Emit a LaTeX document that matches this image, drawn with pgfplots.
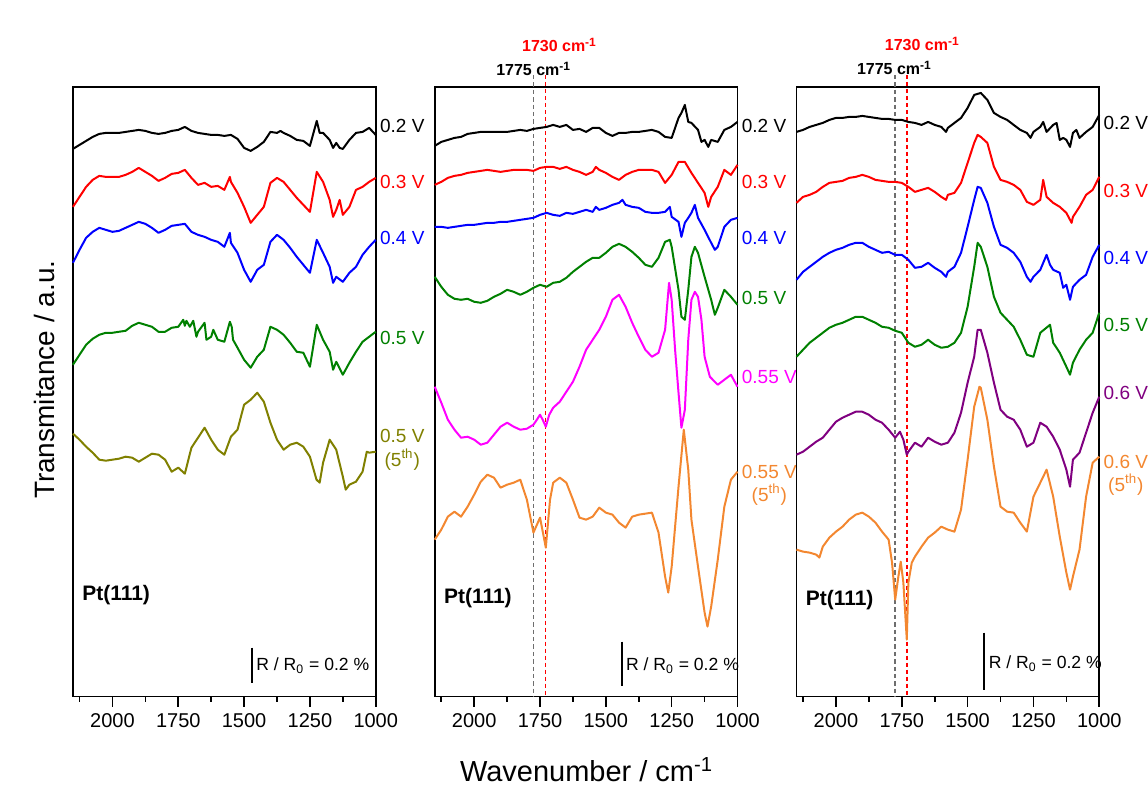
\documentclass[border=0pt]{standalone}
\usepackage{pgfplots}
\pgfplotsset{compat=1.18}
\usepackage{fontspec}
\setmainfont{Liberation Sans}

\definecolor{sgreen}{RGB}{0,128,0}
\definecolor{solive}{RGB}{128,128,0}
\definecolor{sorange}{RGB}{243,135,48}
\definecolor{spurple}{RGB}{128,0,128}
\definecolor{smag}{RGB}{255,0,255}
\definecolor{sgray}{RGB}{110,110,110}

\pgfplotsset{
  panel/.style={
    scale only axis, width=151.5pt, height=305pt,
    anchor=south west,
    xmin=1000, xmax=2150, x dir=reverse,
    ymin=87, ymax=697, y dir=reverse,
    xtick={1000,1250,1500,1750,2000},
    minor xtick={1125,1375,1625,1875,2125},
    ytick=\empty,
    xtick pos=left,
    tick align=outside,
    major tick length=5pt, minor tick length=2.5pt,
    tick style={black, line width=0.8pt},
    axis line style={line width=0.8pt},
    tick label style={font=\fontsize{10}{12}\selectfont},
    /pgf/number format/assume math mode=true,
    /pgf/number format/1000 sep={},
    clip=false,
    every axis plot/.append style={line width=1pt, line join=round, no markers},
  },
}
\tikzset{
  lbl/.style={anchor=west, inner sep=0pt, xshift=2pt, font=\fontsize{9.5}{11}\selectfont},
  fifth/.style={inner sep=0pt, font=\fontsize{9.5}{11}\selectfont},
  pt/.style={anchor=west, inner sep=0pt, font=\fontsize{10.5}{12}\selectfont\bfseries},
  rr/.style={anchor=west, inner sep=0pt, font=\fontsize{8.8}{10}\selectfont},
  ann/.style={inner sep=0pt, font=\fontsize{8}{10}\selectfont\bfseries},
  gdash/.style={sgray, line width=0.9pt, dash pattern=on 2.2pt off 1.5pt},
  rdash/.style={red, line width=0.6pt, dash pattern=on 2pt off 1.5pt},
}

\begin{document}
\begin{tikzpicture}
\path (0,0) rectangle (574pt,394.5pt);

% ---------------- panel 1 ----------------
\begin{axis}[panel, at={(36.5pt,46pt)}]
\addplot[black] coordinates {(2150,149) (2125,145) (2100,141) (2075,137) (2050,134) (2025,133) (2000,133) (1975,133) (1950,132) (1925,131) (1900,130) (1875,131) (1850,133) (1825,134) (1800,133) (1775,131) (1750,130) (1725,127) (1700,131) (1675,133) (1650,134) (1625,135) (1600,135) (1575,136) (1550,135) (1525,139) (1500,148) (1475,151) (1450,147) (1425,142) (1400,132) (1375,133) (1362,131) (1350,133) (1325,136) (1300,140) (1275,141) (1250,146) (1224,121) (1213,133) (1200,133) (1175,140) (1162,148) (1150,143) (1137,148) (1125,149) (1100,140) (1075,133) (1050,132) (1025,128) (1000,135)};
\addplot[red] coordinates {(2150,207) (2125,197) (2100,187) (2075,180) (2050,176) (2025,177) (2000,177) (1975,177) (1950,175) (1925,172) (1900,168) (1875,172) (1850,176) (1825,181) (1800,178) (1775,174) (1750,173) (1725,170) (1700,178) (1675,185) (1650,183) (1625,187) (1600,186) (1575,190) (1554,177) (1550,182) (1525,193) (1500,207) (1475,223) (1450,215) (1425,207) (1400,183) (1375,178) (1350,182) (1325,190) (1300,198) (1275,205) (1250,212) (1224,172) (1200,182) (1175,200) (1162,217) (1150,210) (1137,200) (1125,215) (1100,207) (1075,190) (1050,187) (1025,182) (1000,178)};
\addplot[blue] coordinates {(2150,263) (2125,250) (2100,238) (2075,232) (2050,228) (2025,230) (2000,232) (1975,231) (1950,228) (1925,225) (1900,222) (1875,224) (1850,228) (1825,233) (1800,230) (1775,226) (1750,225) (1725,224) (1700,232) (1675,235) (1650,237) (1625,240) (1600,242) (1575,247) (1554,233) (1550,243) (1525,253) (1500,270) (1475,282) (1450,270) (1425,265) (1400,242) (1375,235) (1350,240) (1325,248) (1300,257) (1275,265) (1250,273) (1224,240) (1200,253) (1175,267) (1162,283) (1150,277) (1125,282) (1100,273) (1075,267) (1050,255) (1025,247) (1000,240)};
\addplot[sgreen] coordinates {(2150,365) (2125,355) (2100,345) (2075,339) (2050,335) (2025,333) (2000,333) (1975,332) (1950,331) (1925,326) (1900,323) (1875,325) (1850,327) (1825,332) (1800,332) (1775,328) (1750,327) (1731,320) (1725,326) (1719,321) (1706,327) (1693,321) (1681,337) (1675,332) (1650,323) (1643,340) (1625,337) (1617,330) (1600,340) (1575,342) (1554,322) (1547,327) (1542,340) (1525,348) (1500,360) (1475,368) (1450,357) (1425,350) (1400,327) (1375,330) (1350,335) (1325,343) (1300,352) (1275,353) (1250,367) (1224,325) (1200,340) (1175,352) (1162,370) (1150,362) (1125,375) (1100,363) (1075,352) (1050,342) (1025,337) (1000,332)};
\addplot[solive] coordinates {(2150,434) (2125,440) (2100,447) (2075,453) (2050,460) (2025,461) (2000,460) (1975,459) (1950,457) (1925,458) (1900,462) (1875,458) (1850,454) (1825,455) (1800,460) (1775,472) (1750,468) (1725,474) (1700,448) (1675,438) (1650,428) (1625,440) (1600,450) (1575,455) (1550,437) (1525,430) (1500,405) (1475,400) (1450,393) (1425,402) (1400,423) (1375,440) (1350,450) (1325,445) (1300,443) (1275,447) (1250,457) (1225,480) (1213,483) (1200,463) (1175,440) (1150,450) (1125,477) (1114,490) (1100,485) (1075,482) (1050,472) (1034,452) (1025,453) (1000,452)};
\node[lbl, text=black] at (axis cs:1000,126) {0.2 V};
\node[lbl, text=red] at (axis cs:1000,182) {0.3 V};
\node[lbl, text=blue] at (axis cs:1000,238) {0.4 V};
\node[lbl, text=sgreen] at (axis cs:1000,338) {0.5 V};
\node[lbl, text=solive] (a1) at (axis cs:1000,436) {0.5 V};
\coordinate (b1) at (axis cs:1000,460);
\node[fifth, text=solive] at (a1.center |- b1) {(5\textsuperscript{th})};
\node[pt] at (axis cs:2116,595) {Pt(111)};
\draw[line width=1pt] (axis cs:1470,648) -- (axis cs:1470,683);
\node[rr] at (axis cs:1455,666) {R / R\textsubscript{0} = 0.2 \%};
\end{axis}

% ---------------- panel 2 ----------------
\begin{axis}[panel, at={(217.5pt,46pt)}]
\draw[gdash] (axis cs:1775,75) -- (axis cs:1775,697);
\draw[rdash] (axis cs:1730,75) -- (axis cs:1730,697);
\addplot[black] coordinates {(2150,146) (2125,142) (2100,140) (2075,138) (2050,137) (2025,134) (2000,133) (1975,132) (1950,132) (1925,132) (1900,132) (1875,132) (1850,131) (1825,130) (1800,131) (1775,129) (1750,128) (1725,127) (1700,125) (1675,127) (1650,125) (1625,130) (1600,129) (1575,132) (1550,128) (1525,128) (1500,133) (1475,136) (1450,133) (1425,133) (1400,132) (1375,132) (1350,131) (1325,130) (1300,132) (1275,137) (1250,138) (1224,118) (1213,113) (1200,105) (1187,122) (1175,123) (1150,130) (1137,142) (1125,140) (1111,147) (1100,140) (1075,142) (1050,130) (1025,127) (1000,122)};
\addplot[red] coordinates {(2150,185) (2125,182) (2100,178) (2075,176) (2050,175) (2025,173) (2000,172) (1975,171) (1950,170) (1925,171) (1900,172) (1875,171) (1850,170) (1825,170) (1800,170) (1775,171) (1750,168) (1725,167) (1700,167) (1675,169) (1650,167) (1625,170) (1600,172) (1575,175) (1550,172) (1538,167) (1525,170) (1500,173) (1475,177) (1450,180) (1425,175) (1400,172) (1375,170) (1350,170) (1325,170) (1300,172) (1275,183) (1250,175) (1224,162) (1200,162) (1175,173) (1150,183) (1125,193) (1111,207) (1100,197) (1075,187) (1050,170) (1025,175) (1000,165)};
\addplot[blue] coordinates {(2150,227) (2125,227) (2100,228) (2075,227) (2050,226) (2025,225) (2000,225) (1975,224) (1950,223) (1925,223) (1900,222) (1875,222) (1850,221) (1825,220) (1800,219) (1775,218) (1750,215) (1725,213) (1700,215) (1675,216) (1650,213) (1625,214) (1600,212) (1575,210) (1550,212) (1538,207) (1525,210) (1500,208) (1475,205) (1450,203) (1437,200) (1425,205) (1400,207) (1375,208) (1350,212) (1325,213) (1300,213) (1275,212) (1257,207) (1250,217) (1224,222) (1213,237) (1200,223) (1187,218) (1175,213) (1162,205) (1150,218) (1125,230) (1100,243) (1086,250) (1075,247) (1050,227) (1025,220) (1000,218)};
\addplot[sgreen] coordinates {(2150,277) (2125,287) (2100,295) (2075,299) (2050,300) (2025,299) (2000,302) (1975,303) (1950,301) (1925,297) (1900,294) (1875,290) (1850,292) (1825,295) (1800,292) (1775,288) (1750,285) (1725,287) (1700,283) (1675,282) (1650,278) (1625,272) (1600,267) (1575,262) (1550,258) (1525,258) (1500,253) (1475,247) (1450,244) (1425,247) (1400,252) (1375,258) (1350,265) (1325,267) (1300,258) (1275,242) (1257,240) (1250,247) (1224,290) (1213,317) (1200,320) (1187,290) (1175,257) (1162,247) (1150,253) (1125,277) (1100,300) (1086,315) (1075,308) (1050,290) (1025,297) (1000,305)};
\addplot[smag] coordinates {(2150,387) (2125,403) (2100,420) (2075,430) (2050,438) (2025,437) (2000,440) (1975,445) (1950,443) (1925,435) (1900,427) (1875,423) (1850,427) (1825,430) (1800,429) (1775,425) (1762,420) (1750,415) (1740,420) (1728,427) (1715,415) (1700,408) (1675,402) (1650,392) (1625,382) (1600,367) (1575,350) (1550,340) (1525,330) (1500,317) (1475,300) (1450,295) (1425,307) (1400,323) (1375,337) (1350,350) (1325,357) (1300,353) (1275,330) (1260,283) (1250,300) (1237,350) (1224,393) (1213,428) (1200,410) (1187,340) (1175,300) (1162,292) (1150,297) (1137,320) (1125,357) (1105,377) (1075,385) (1050,380) (1025,375) (1000,387)};
\addplot[sorange] coordinates {(2150,540) (2125,530) (2100,517) (2075,512) (2050,517) (2025,507) (2000,495) (1975,482) (1950,475) (1925,478) (1900,488) (1875,485) (1850,483) (1825,480) (1800,500) (1775,533) (1750,518) (1728,548) (1712,500) (1700,483) (1675,478) (1650,483) (1625,500) (1600,518) (1575,520) (1550,517) (1525,508) (1500,513) (1475,515) (1450,523) (1425,528) (1400,517) (1375,515) (1350,514) (1325,513) (1300,533) (1275,577) (1263,593) (1250,567) (1224,487) (1204,430) (1187,470) (1175,520) (1150,567) (1125,613) (1114,627) (1100,607) (1075,560) (1050,507) (1025,480) (1000,472)};
\node[lbl, text=black] at (axis cs:1000,126) {0.2 V};
\node[lbl, text=red] at (axis cs:1000,182) {0.3 V};
\node[lbl, text=blue] at (axis cs:1000,238) {0.4 V};
\node[lbl, text=sgreen] at (axis cs:1000,298) {0.5 V};
\node[lbl, text=smag] at (axis cs:1000,377) {0.55 V};
\node[lbl, text=sorange] (a2) at (axis cs:1000,472) {0.55 V};
\coordinate (b2) at (axis cs:1000,495);
\node[fifth, text=sorange] at (a2.center |- b2) {(5\textsuperscript{th})};
\node[pt] at (axis cs:2116,598) {Pt(111)};
\draw[line width=1pt] (axis cs:1440,642) -- (axis cs:1440,686);
\node[rr] at (axis cs:1425,666) {R / R\textsubscript{0} = 0.2 \%};
\node[ann, text=red] at (axis cs:1676,45) {1730 cm\textsuperscript{-1}};
\node[ann, text=black] at (axis cs:1774,69) {1775 cm\textsuperscript{-1}};
\end{axis}

% ---------------- panel 3 ----------------
\begin{axis}[panel, at={(398.5pt,46pt)}]
\draw[gdash] (axis cs:1775,75) -- (axis cs:1775,697);
\draw[rdash] (axis cs:1730,75) -- (axis cs:1730,697);
\addplot[black] coordinates {(2150,132) (2125,130) (2100,127) (2075,125) (2050,123) (2025,120) (2000,118) (1975,118) (1950,117) (1925,117) (1900,116) (1875,117) (1850,118) (1825,119) (1800,119) (1775,120) (1750,120) (1725,122) (1700,123) (1675,125) (1650,122) (1625,125) (1600,127) (1582,132) (1575,128) (1550,123) (1525,118) (1500,108) (1475,95) (1450,93) (1425,100) (1400,113) (1375,117) (1350,120) (1325,125) (1300,130) (1275,133) (1261,138) (1250,132) (1224,127) (1213,122) (1200,132) (1175,125) (1162,123) (1150,140) (1137,138) (1125,140) (1111,147) (1100,133) (1087,130) (1075,138) (1050,132) (1025,127) (1000,115)};
\addplot[red] coordinates {(2150,203) (2125,197) (2100,195) (2075,192) (2050,187) (2025,183) (2000,182) (1975,181) (1950,178) (1925,177) (1900,175) (1875,177) (1850,180) (1825,181) (1800,182) (1775,182) (1750,183) (1725,187) (1700,192) (1675,190) (1650,188) (1625,192) (1600,197) (1582,200) (1575,195) (1550,193) (1525,183) (1500,163) (1475,143) (1462,135) (1450,137) (1425,143) (1400,167) (1375,180) (1350,182) (1325,185) (1300,190) (1275,202) (1250,205) (1224,200) (1213,180) (1200,197) (1175,203) (1150,207) (1125,213) (1105,223) (1100,217) (1075,207) (1050,195) (1025,190) (1000,177)};
\addplot[blue] coordinates {(2150,280) (2125,272) (2100,267) (2075,262) (2050,257) (2025,253) (2000,250) (1975,248) (1950,245) (1925,243) (1900,243) (1875,247) (1850,250) (1825,253) (1800,252) (1775,255) (1750,255) (1725,260) (1700,268) (1675,267) (1650,263) (1625,268) (1600,272) (1582,277) (1575,272) (1550,267) (1525,253) (1500,227) (1475,200) (1462,187) (1450,188) (1425,203) (1400,227) (1375,245) (1350,248) (1325,253) (1300,262) (1275,277) (1261,282) (1250,277) (1224,270) (1200,255) (1187,265) (1175,270) (1150,273) (1137,288) (1125,285) (1111,300) (1100,287) (1075,280) (1050,275) (1025,257) (1000,245)};
\addplot[sgreen] coordinates {(2150,357) (2125,350) (2100,343) (2075,338) (2050,333) (2025,328) (2000,325) (1975,323) (1950,320) (1925,317) (1900,317) (1875,320) (1850,323) (1825,327) (1800,328) (1775,331) (1750,333) (1725,343) (1700,347) (1675,345) (1650,340) (1625,345) (1600,348) (1575,347) (1550,343) (1525,333) (1500,307) (1475,267) (1462,243) (1450,247) (1425,267) (1400,297) (1375,313) (1350,320) (1325,327) (1300,340) (1275,355) (1250,357) (1224,333) (1187,325) (1175,343) (1150,353) (1125,367) (1111,375) (1100,363) (1075,350) (1050,340) (1025,333) (1000,313)};
\addplot[spurple] coordinates {(2150,455) (2125,452) (2100,447) (2075,442) (2050,438) (2025,430) (2000,422) (1975,418) (1950,415) (1925,412) (1900,412) (1875,415) (1850,420) (1825,423) (1800,430) (1775,438) (1757,432) (1744,440) (1731,455) (1725,452) (1700,443) (1675,447) (1650,438) (1625,442) (1600,445) (1575,443) (1550,433) (1525,413) (1500,383) (1475,357) (1462,330) (1450,330) (1425,353) (1400,383) (1375,410) (1350,417) (1325,420) (1300,430) (1275,447) (1250,443) (1224,423) (1200,427) (1175,437) (1150,450) (1125,470) (1111,487) (1100,460) (1075,453) (1050,433) (1025,413) (1000,397)};
\addplot[sorange] coordinates {(2150,550) (2125,552) (2100,553) (2075,555) (2063,558) (2050,547) (2025,538) (2000,532) (1975,527) (1950,520) (1925,515) (1900,513) (1875,517) (1850,523) (1825,532) (1800,540) (1787,563) (1775,600) (1763,577) (1754,562) (1744,583) (1731,640) (1725,583) (1712,563) (1700,557) (1675,547) (1650,538) (1625,533) (1600,527) (1575,530) (1550,532) (1525,510) (1500,460) (1475,407) (1455,387) (1450,388) (1425,420) (1400,467) (1375,507) (1350,512) (1325,513) (1300,523) (1275,532) (1250,497) (1224,483) (1200,470) (1175,497) (1150,537) (1125,573) (1111,590) (1100,577) (1075,550) (1050,497) (1025,463) (1000,457)};
\node[lbl, text=black] at (axis cs:1000,123) {0.2 V};
\node[lbl, text=red] at (axis cs:1000,191) {0.3 V};
\node[lbl, text=blue] at (axis cs:1000,258) {0.4 V};
\node[lbl, text=sgreen] at (axis cs:1000,325) {0.5 V};
\node[lbl, text=spurple] at (axis cs:1000,393) {0.6 V};
\node[lbl, text=sorange] (a3) at (axis cs:1000,462) {0.6 V};
\coordinate (b3) at (axis cs:1000,485);
\node[fifth, text=sorange] at (a3.center |- b3) {(5\textsuperscript{th})};
\node[pt] at (axis cs:2116,600) {Pt(111)};
\draw[line width=1pt] (axis cs:1436,633) -- (axis cs:1436,690);
\node[rr] at (axis cs:1421,664) {R / R\textsubscript{0} = 0.2 \%};
\node[ann, text=red] at (axis cs:1672,44) {1730 cm\textsuperscript{-1}};
\node[ann, text=black] at (axis cs:1778,68) {1775 cm\textsuperscript{-1}};
\end{axis}

\node[rotate=90, font=\fontsize{14}{16}\selectfont] at (22.5pt,204.5pt) {Transmitance / a.u.};
\node[font=\fontsize{14.5}{16}\selectfont] at (293.5pt,9.5pt) {Wavenumber / cm\textsuperscript{-1}};
\end{tikzpicture}
\end{document}
